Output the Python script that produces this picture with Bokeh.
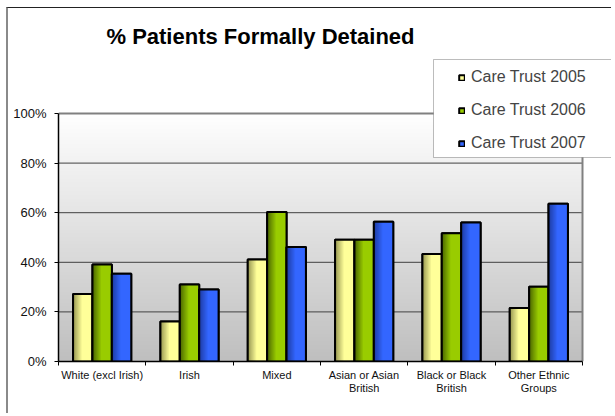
import numpy as np
from bokeh.plotting import figure
from bokeh.models import (Range1d, FixedTicker, NumeralTickFormatter, Legend, LegendItem,
                          BoxAnnotation, Label, ColumnDataSource)
from bokeh.embed import file_html
from bokeh.resources import INLINE

# ---------------- data ----------------
categories = ["White (excl Irish)", "Irish", "Mixed", "Asian or Asian British",
              "Black or Black British", "Other Ethnic Groups"]
tick_labels = ["White (excl Irish)", "Irish", "Mixed", "Asian or Asian\nBritish",
               "Black or Black\nBritish", "Other Ethnic\nGroups"]
series_names = ["Care Trust 2005", "Care Trust 2006", "Care Trust 2007"]
care_2005 = [27.2, 16.1, 41.1, 49.1, 43.3, 21.6]
care_2006 = [39.1, 31.0, 60.3, 49.1, 51.7, 30.1]
care_2007 = [35.4, 29.0, 46.2, 56.4, 56.0, 63.6]
y_ticks = [0, 0.2, 0.4, 0.6, 0.8, 1.0]

series_values = [care_2005, care_2006, care_2007]
main_colors = ["#FFFF99", "#99CC00", "#3366FF"]
dark_colors = ["#9C9C55", "#4F6B00", "#1F3FA8"]

FONT = "Liberation Sans"
NCAT = len(categories)

# frame: data area 0..NCAT x 0..1 occupies 524 x 248 px; frame extends up/right for title & legend
W, H = 605, 406
X_END = NCAT * (W - 50) / 524
Y_END = 353 / 248

p = figure(width=W, height=H, output_backend="svg", toolbar_location=None,
           title=None, x_range=Range1d(0, X_END), y_range=Range1d(0, Y_END),
           min_border_left=50, min_border_right=0, min_border_top=0,
           min_border_bottom=H - 353)
p.background_fill_color = "white"
p.border_fill_color = "white"
p.outline_line_color = None
p.styles = {"margin-left": "6px", "margin-top": "7px",
            "border-left": "2px solid #8a8a8a", "border-top": "1px solid #222222",
            "border-right": "0px none transparent", "border-bottom": "0px none transparent",
            "box-shadow": "none", "outline": "none"}

# plot-area gradient background (white at top -> grey at bottom)
N = 200
lv = np.linspace(0xBF, 0xFF, N).astype(np.uint32)
img = np.empty((N, 1), dtype=np.uint32)
view = img.view(dtype=np.uint8).reshape((N, 1, 4))
view[:, 0, 0] = lv
view[:, 0, 1] = lv
view[:, 0, 2] = lv
view[:, 0, 3] = 255
bg = p.image_rgba(image=[img], x=0, y=0, dw=NCAT, dh=1)
bg.level = "image"

# grid lines limited to the plot area
p.xgrid.visible = False
p.ygrid.visible = False
inner = y_ticks[1:-1]
gl = p.segment(x0=[0] * len(inner), x1=[NCAT] * len(inner), y0=inner, y1=inner,
               line_color="#404040", line_width=1)
gl.level = "underlay"
# plot-area border (top and right, grey)
pb = p.line(x=[0, NCAT, NCAT], y=[y_ticks[-1], y_ticks[-1], y_ticks[0]],
            line_color="#808080", line_width=2)
pb.level = "underlay"

# bars
idx = np.arange(NCAT) + 0.5
bw = 0.222
offsets = [-bw, 0.0, bw]
legend_items = []
for s, vals in enumerate(series_values):
    vals = np.array(vals) / 100.0
    xc = idx + offsets[s]
    src = ColumnDataSource(dict(x=xc, top=vals))
    base = p.vbar(x="x", top="top", width=bw, bottom=0, source=src,
                  fill_color=main_colors[s], line_color="black", line_width=2)
    legend_items.append(LegendItem(label=series_names[s], renderers=[base]))
    mc = np.array([int(main_colors[s][i:i + 2], 16) for i in (1, 3, 5)])
    dc = np.array([int(dark_colors[s][i:i + 2], 16) for i in (1, 3, 5)])
    nstrip = 8
    for k in range(0, nstrip + 1):
        f = k * 0.055
        t = k / nstrip
        c = (dc + (mc - dc) * t).astype(int)
        col = "#%02x%02x%02x" % tuple(c)
        w = bw * (1 - f)
        p.vbar(x=xc + bw * f / 2, top=vals, width=w, bottom=0,
               fill_color=col, line_color=None)
    p.vbar(x="x", top="top", width=bw, bottom=0, source=src,
           fill_alpha=0, line_color="black", line_width=2)

# axes
xa = p.xaxis[0]
xa.bounds = (0, NCAT)
xa.ticker = FixedTicker(ticks=list(idx), minor_ticks=list(range(NCAT + 1)))
xa.major_label_overrides = {float(v): lab for v, lab in zip(idx, tick_labels)}
xa.major_tick_line_color = None
xa.minor_tick_in = 0
xa.minor_tick_out = 4
xa.minor_tick_line_color = "black"
xa.axis_line_color = "black"
xa.axis_line_width = 1.5
xa.major_label_standoff = 1
xa.major_label_text_font = FONT
xa.major_label_text_font_size = "11px"
xa.major_label_text_color = "#111111"
xa.major_label_text_line_height = 1.1

ya = p.yaxis[0]
ya.bounds = (0, 1)
ya.ticker = FixedTicker(ticks=y_ticks)
ya.formatter = NumeralTickFormatter(format="0%")
ya.minor_tick_line_color = None
ya.major_tick_in = 0
ya.major_tick_out = 4
ya.major_tick_line_color = "black"
ya.axis_line_color = "black"
ya.axis_line_width = 1.5
ya.major_label_standoff = 8
ya.major_label_text_font = FONT
ya.major_label_text_font_size = "13px"
ya.major_label_text_color = "#111111"

# legend box (drawn separately so it can be wider than the items)
legend_box = BoxAnnotation(left=375, right=554, bottom=204, top=302,
                           left_units="screen", right_units="screen",
                           top_units="screen", bottom_units="screen",
                           fill_color="white", fill_alpha=1, line_color="#222222",
                           line_width=1)
p.add_layout(legend_box)

legend = Legend(items=legend_items, location=(400, 208), padding=0, margin=0,
                spacing=13, label_height=20, glyph_width=7, glyph_height=7,
                label_standoff=6, label_text_font=FONT, label_text_font_size="16px",
                background_fill_alpha=0, border_line_color=None)
p.add_layout(legend, "center")

title = Label(x=202, y=325, x_units="screen", y_units="screen",
              text="% Patients Formally Detained", text_align="center",
              text_baseline="alphabetic", text_font=FONT, text_font_size="22px",
              text_font_style="bold", text_color="black")
p.add_layout(title)

open("out.html", "w").write(file_html(p, INLINE))
